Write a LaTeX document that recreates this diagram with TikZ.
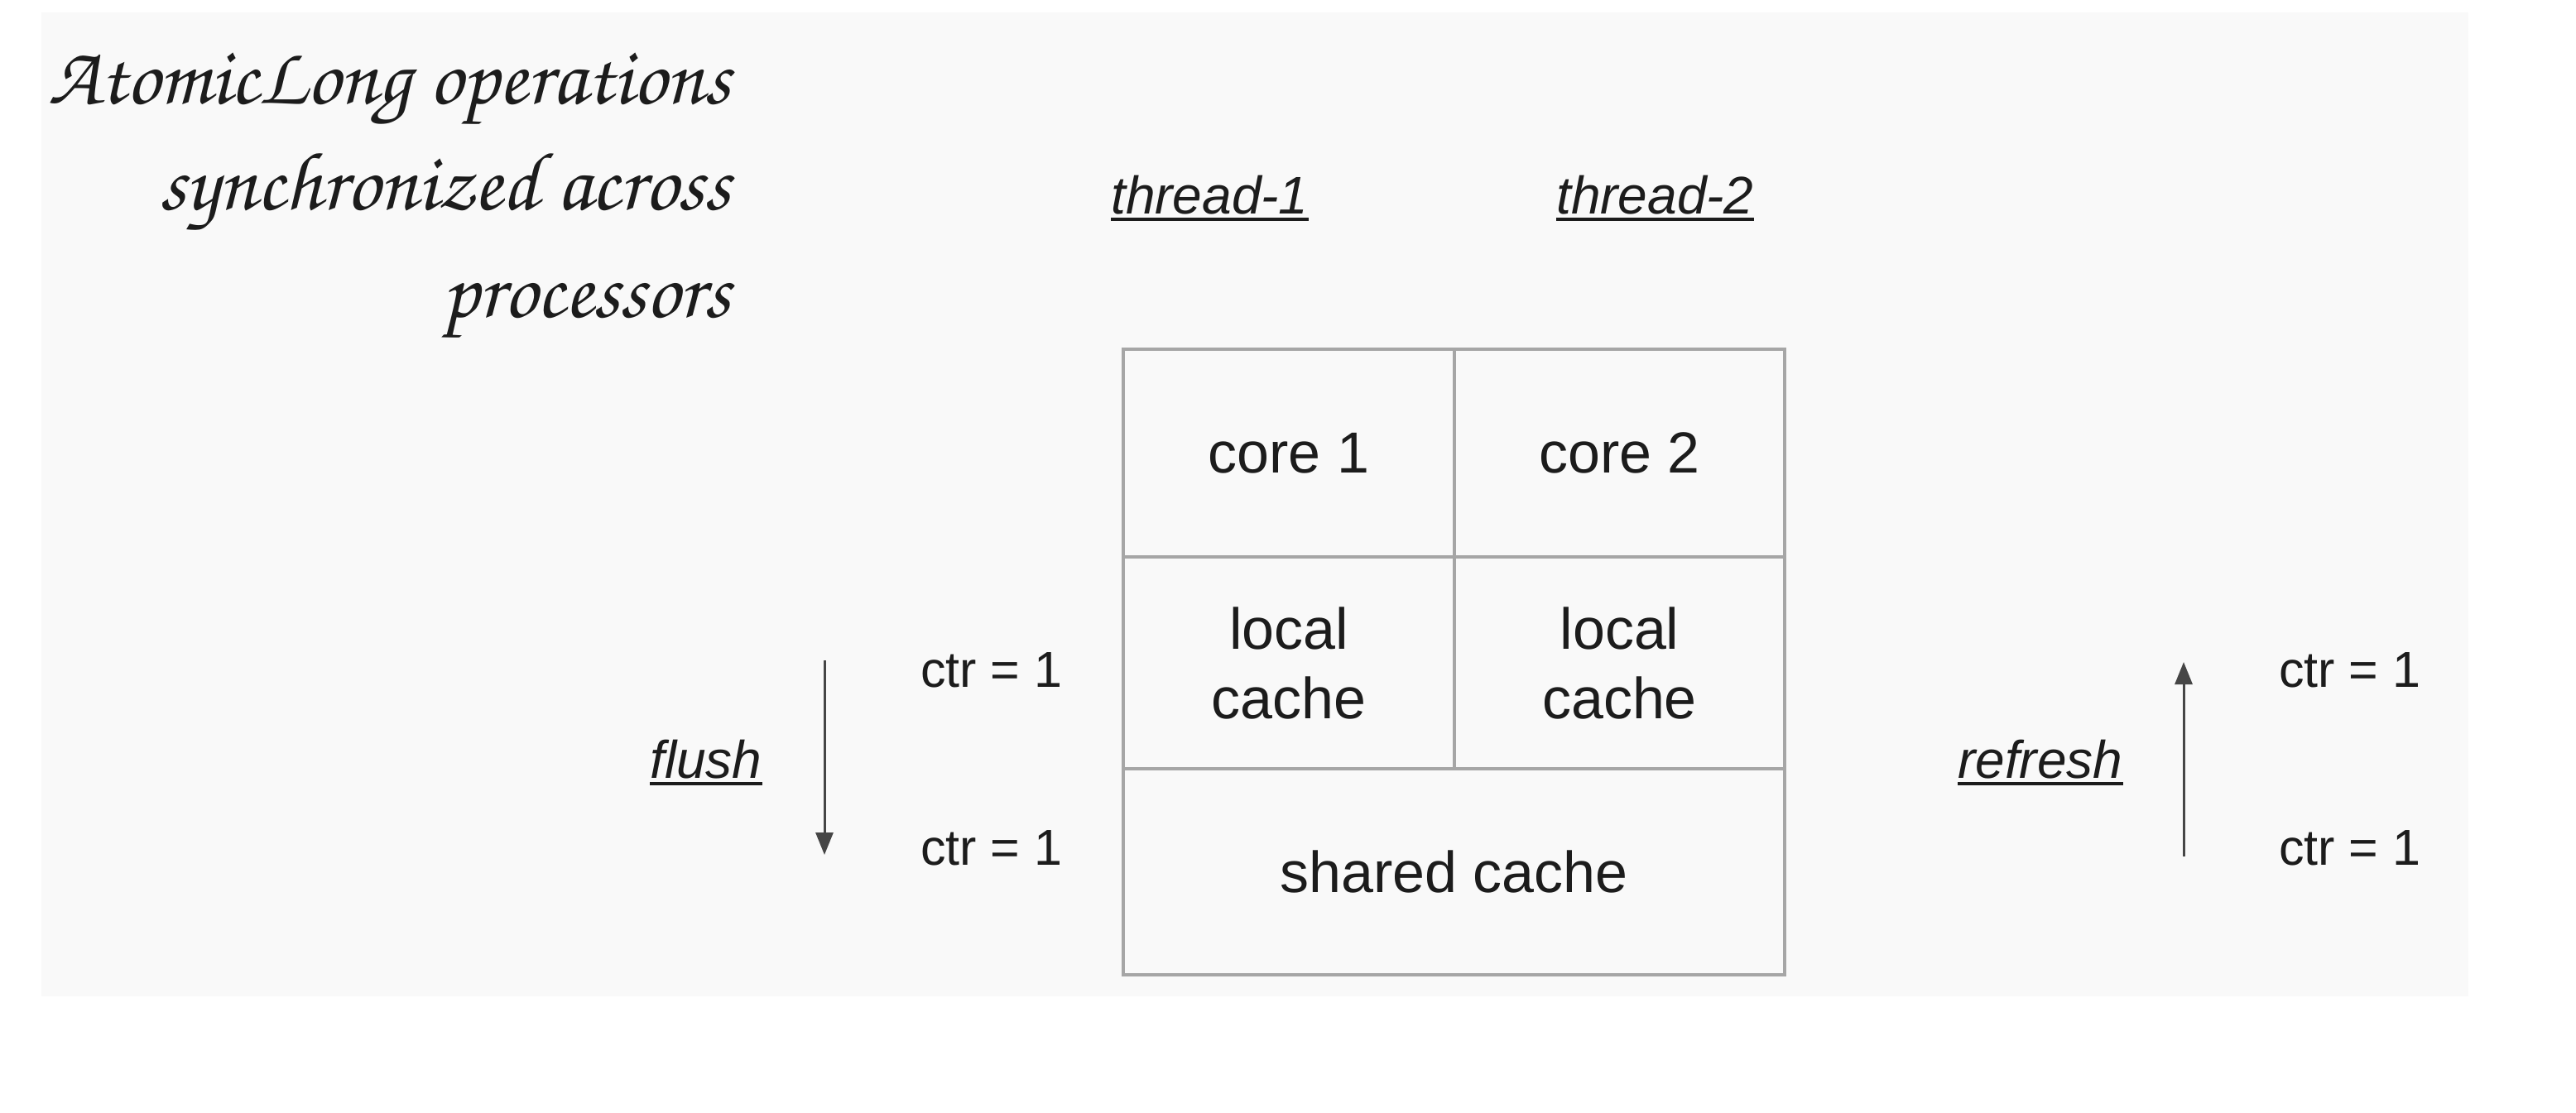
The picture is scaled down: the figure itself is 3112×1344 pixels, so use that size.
\documentclass[tikz,border=0pt]{standalone}
\usepackage{fontspec}
\setmainfont{Liberation Sans}
\usetikzlibrary{arrows.meta}
\definecolor{panel}{RGB}{249,249,249}
\definecolor{gridline}{RGB}{166,166,166}
\definecolor{ink}{RGB}{28,28,28}
\definecolor{arrowgray}{RGB}{70,70,70}
% script face for the heading
\newcommand{\handfont}{\fontencoding{OT1}\fontfamily{pzc}\fontseries{m}\fontshape{it}}
\begin{document}
\begin{tikzpicture}[x=1pt,y=-1pt,
  cell/.style={draw=gridline, line width=3.5pt, inner sep=0pt, text=ink,
    font=\fontsize{70}{84}\selectfont, align=center},
  ctrlabel/.style={inner sep=0pt, text=ink, anchor=base west,
    font=\fontsize{61}{72}\selectfont},
  lbl/.style={inner sep=0pt, text=ink, anchor=base west,
    font=\fontsize{64}{76}\selectfont\itshape},
  uline/.style={draw=ink, line width=4.5pt},
  flow/.style={draw=arrowgray, line width=3pt, -{Triangle[length=27pt,width=21pt]}},
  heading/.style={inner sep=0pt, text=ink, anchor=base east,
    font=\handfont\fontsize{100}{120}\selectfont}]
\useasboundingbox (0,0) rectangle (3112,1344);
\fill[white] (0,0) rectangle (3112,1344);
\fill[panel] (50,15) rectangle (2982,1204);

% heading
\node[heading] (title1) at (883,125) {AtomicLong operations};
\node[heading] (title2) at (883,253) {synchronized across};
\node[heading] (title3) at (883,383) {processors};

% processor block
\node[cell, minimum width=400pt, minimum height=251pt] (core1) at (1557,547.5) {core 1};
\node[cell, minimum width=399pt, minimum height=251pt] (core2) at (1956.5,547.5) {core 2};
\node[cell, minimum width=400pt, minimum height=256pt] (local1) at (1557,801) {local\\cache};
\node[cell, minimum width=399pt, minimum height=256pt] (local2) at (1956.5,801) {local\\cache};
\node[cell, minimum width=799pt, minimum height=249pt] (shared) at (1756.5,1053.5) {shared cache};

% thread labels
\node[lbl] (thr1) at (1342,258) {thread-1};
\node[lbl] (thr2) at (1880,258) {thread-2};
\draw[uline] ([yshift=-7pt]thr1.base west) -- ([yshift=-7pt]thr1.base east);
\draw[uline] ([yshift=-7pt]thr2.base west) -- ([yshift=-7pt]thr2.base east);

% flush side
\node[lbl] (flush) at (785,940) {flush};
\draw[uline] ([yshift=-7pt]flush.base west) -- ([yshift=-7pt]flush.base east);
\coordinate (fTop) at (996,798);
\coordinate (fBot) at (996,1033);
\draw[flow] (fTop) -- (fBot);
\node[ctrlabel] (ctrLA) at (1112,830) {ctr = 1};
\node[ctrlabel] (ctrLB) at (1112,1045) {ctr = 1};

% refresh side
\node[lbl] (refresh) at (2365,940) {refresh};
\draw[uline] ([yshift=-7pt]refresh.base west) -- ([yshift=-7pt]refresh.base east);
\coordinate (rBot) at (2638,1035);
\coordinate (rTop) at (2638,800);
\draw[flow] (rBot) -- (rTop);
\node[ctrlabel] (ctrRA) at (2753,830) {ctr = 1};
\node[ctrlabel] (ctrRB) at (2753,1045) {ctr = 1};
\end{tikzpicture}
\end{document}
